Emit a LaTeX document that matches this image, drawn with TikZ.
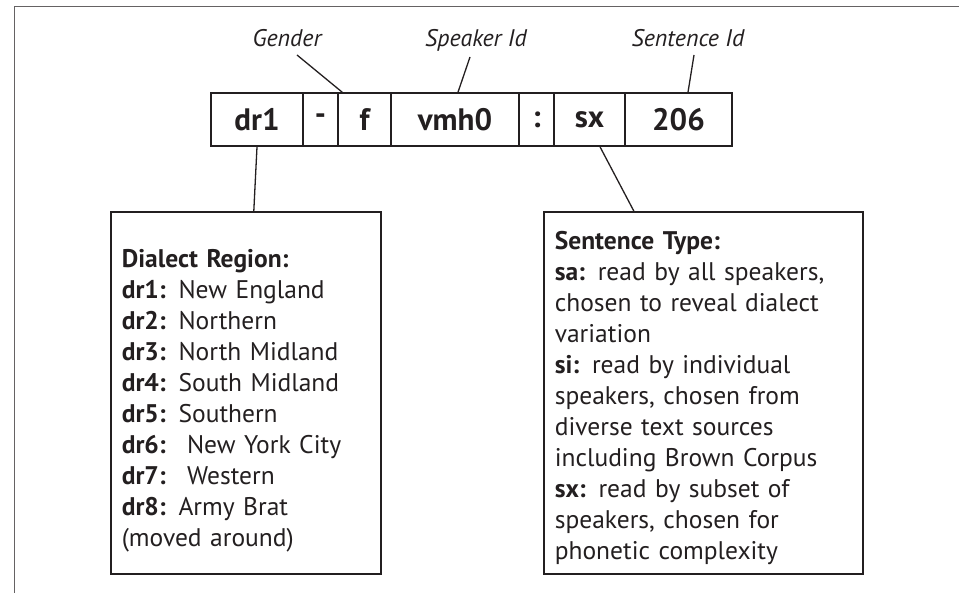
\documentclass[tikz,border=0pt]{standalone}
\usepackage{fontspec}
\setmainfont{PT Sans}
\usetikzlibrary{calc}
\definecolor{ink}{HTML}{231F20}
\begin{document}
\begin{tikzpicture}[x=1pt,y=-1pt,
  cell/.style={draw=ink,line width=1.6pt,minimum height=53pt,inner sep=0pt,
    font=\fontsize{31}{31}\selectfont\bfseries,text=ink},
  tag/.style={anchor=base,font=\fontsize{24}{24}\selectfont\itshape,text=ink},
  infobox/.style={draw=ink,line width=1.6pt,anchor=north west,minimum height=362pt,
    inner xsep=11pt,align=left,font=\fontsize{25.5}{31}\selectfont,text=ink},
  link/.style={draw=ink,line width=1.3pt}]
\useasboundingbox (0,0) rectangle (959,593);
\draw[line width=1pt,draw=ink!70] (959,7) -- (14,7) -- (14,593);
% the file name, cell by cell
\node[cell,minimum width=92pt] (reg) at (257,119.5) {dr1};
\node[cell,minimum width=35pt] (dash) at (320.5,119.5) {-};
\node[cell,minimum width=53pt] (gen) at (364.5,119.5) {f};
\node[cell,minimum width=128pt] (spk) at (455,119.5) {vmh0};
\node[cell,minimum width=35pt] (colon) at (536.5,119.5) {:};
\node[cell,minimum width=71pt] (typ) at (589.5,119.5) {sx};
\node[cell,minimum width=107pt] (num) at (678.5,119.5) {206};
% labels above
\node[tag] (gender) at (287,47) {Gender};
\node[tag] (speaker) at (476,47) {Speaker Id};
\node[tag] (sentence) at (688,47) {Sentence Id};
\draw[link] ($(gender.base)+(10,8)$) -- ($(gen.north west)+(5,0)$);
\draw[link] ($(speaker.base)+(-6,10)$) -- ($(spk.north)+(3,0)$);
\draw[link] ($(sentence.base)+(6,8)$) -- ($(num.north)+(9.5,0)$);
% boxes below
\node[infobox,minimum width=270pt,text width=248pt] (regbox) at (110,211) {%
\rule{0pt}{35pt}\textbf{Dialect Region:}\\
\textbf{dr1:}\enskip New England\\
\textbf{dr2:}\enskip Northern\\
\textbf{dr3:}\enskip North Midland\\
\textbf{dr4:}\enskip South Midland\\
\textbf{dr5:}\enskip Southern\\
\textbf{dr6:}\enskip\ New York City\\
\textbf{dr7:}\enskip\ Western\\
\textbf{dr8:}\enskip Army Brat\\
(moved around)};
\node[infobox,minimum width=319pt,text width=297pt] (typbox) at (543,211) {%
\rule{0pt}{29pt}\textbf{Sentence Type:}\\
\textbf{sa:}\enskip read by all speakers,\\
chosen to reveal dialect\\
variation\\
\textbf{si:}\enskip read by individual\\
speakers, chosen from\\
diverse text sources\\
including Brown Corpus\\
\textbf{sx:}\enskip read by subset of\\
speakers, chosen for\\
phonetic complexity};
\draw[link] (reg.south) -- ($(regbox.north)+(8,0)$);
\draw[link] ($(typ.south)+(10.5,0)$) -- ($(typbox.north)+(-69.5,0)$);
\end{tikzpicture}
\end{document}
